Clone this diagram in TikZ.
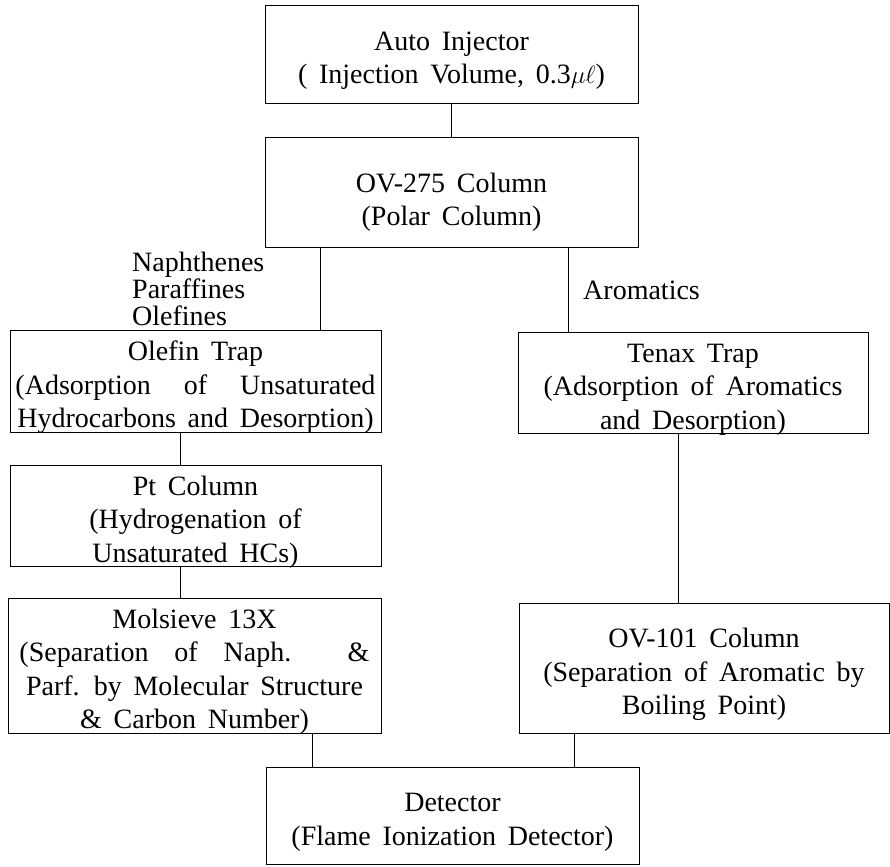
\documentclass[tikz,border=0pt]{standalone}
\usepackage{fontspec}
\setmainfont{Liberation Serif}
\usetikzlibrary{positioning}
\newcommand{\widespaces}{\spaceskip=0.42em plus 0.3em minus 0.1em\relax}
\newcommand{\toppad}{\rule{0pt}{26pt}}
\tikzset{
  stagebox/.style={draw=black, line width=0.9pt, align=center, inner sep=0pt,
    text depth=0pt, font=\fontsize{28}{33.5}\selectfont\widespaces},
  flowlabel/.style={align=left, inner sep=0pt, font=\fontsize{28}{27}\selectfont},
  link/.style={draw=black, line width=0.9pt}
}
\begin{document}
\begin{tikzpicture}[x=1pt,y=-1pt]
  \useasboundingbox (0,0) rectangle (890,866);

  \node[stagebox, minimum width=373pt, minimum height=98pt] (inj) at (451.5,54) {\toppad Auto Injector\\( Injection Volume, 0.3$\mu\ell$)};
  \node[stagebox, minimum width=373pt, minimum height=110pt] (ov275) at (451.5,192) {\rule{0pt}{34pt}OV-275 Column\\(Polar Column)};
  \node[stagebox, minimum width=371pt, minimum height=102pt] (olefin) at (195.5,381) {\toppad Olefin Trap\\\makebox[360pt][s]{(Adsorption of Unsaturated}\\Hydrocarbons and Desorption)};
  \node[stagebox, minimum width=350pt, minimum height=101pt] (tenax) at (693,382.5) {\toppad Tenax Trap\\(Adsorption of Aromatics\\and Desorption)};
  \node[stagebox, minimum width=371pt, minimum height=101pt] (pt) at (195.5,515.5) {\toppad Pt Column\\(Hydrogenation of\\Unsaturated HCs)};
  \node[stagebox, minimum width=373pt, minimum height=135pt] (molsieve) at (194.5,665.5) {\toppad Molsieve 13X\\\makebox[350pt][s]{(Separation of Naph. \&}\\Parf. by Molecular Structure\\\& Carbon Number)};
  \node[stagebox, minimum width=370pt, minimum height=130pt] (ov101) at (704,668) {\toppad OV-101 Column\\(Separation of Aromatic by\\Boiling Point)};
  \node[stagebox, minimum width=373pt, minimum height=97pt] (det) at (452.5,815.5) {\toppad Detector\\(Flame Ionization Detector)};

  \node[flowlabel, anchor=west] (nonarom) at (132,289) {Naphthenes\\Paraffines\\Olefines};
  \node[flowlabel, anchor=west] (arom) at (583,290) {Aromatics};

  % x positions of the split and join lines
  \coordinate (leftx) at (320,0);
  \coordinate (rightx) at (568,0);
  \coordinate (trapx) at (180,0);
  \coordinate (tenaxx) at (678,0);
  \coordinate (molx) at (312,0);
  \coordinate (ovx) at (574,0);

  \draw[link] (inj.south) -- (ov275.north);
  \draw[link] (leftx |- ov275.south) -- (leftx |- olefin.north);
  \draw[link] (rightx |- ov275.south) -- (rightx |- tenax.north);
  \draw[link] (trapx |- olefin.south) -- (trapx |- pt.north);
  \draw[link] (trapx |- pt.south) -- (trapx |- molsieve.north);
  \draw[link] (tenaxx |- tenax.south) -- (tenaxx |- ov101.north);
  \draw[link] (molx |- molsieve.south) -- (molx |- det.north);
  \draw[link] (ovx |- ov101.south) -- (ovx |- det.north);
\end{tikzpicture}
\end{document}
